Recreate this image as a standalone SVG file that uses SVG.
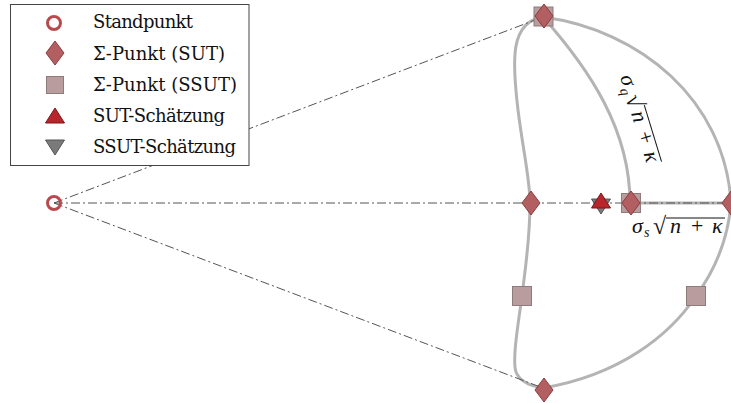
<svg xmlns="http://www.w3.org/2000/svg" width="731" height="403" viewBox="0 0 731 403">
<style>
.curve{fill:none;stroke:#b4b4b4;stroke-width:3}
.dash{fill:none;stroke:#555;stroke-width:1;stroke-dasharray:9 3 2 3}
.dia{fill:#b35f62;stroke:#8a3c3f;stroke-width:1}
.sq{fill:#b89c9e;stroke:#8e7b7c;stroke-width:1}
.tu{fill:#b8262b;stroke:#7c1518;stroke-width:1}
.td{fill:#7a7a7a;stroke:#555;stroke-width:1}
.ring{fill:none;stroke:#b84a4d;stroke-width:3}
</style>
<defs>
<path id="dia" d="M0,-12 L9,0 L0,12 L-9,0 Z"/>
<rect id="sq" x="-9.5" y="-9.5" width="19" height="19"/>
<rect id="sqs" x="-8.5" y="-8.5" width="17" height="17"/>
<path id="tu" d="M0,-8 L9.5,7 L-9.5,7 Z"/>
<path id="td" d="M0,9 L9.5,-6 L-9.5,-6 Z"/>
</defs>
<g id="connectors">
<path class="curve" d="M543,17 C510,22 512,60 518,110 C523,150 530,180 530,203"/>
<path class="curve" d="M530,203 C530,240 525,270 522,296 C518,325 512,360 516,372 C520,382 530,386 543,388"/>
<path class="curve" d="M543,17 C590,70 630,130 630,203"/>
<path class="curve" d="M543,17 C640,30 725,100 731,203"/>
<path class="curve" d="M731,203 C728,240 715,270 696,296 C670,335 620,375 543,388"/>
<path class="curve" d="M630,203 L731,203"/>
<path class="dash" d="M54,203 L731,203"/>
<path class="dash" d="M54,203 L543,17"/>
<path class="dash" d="M54,203 L543,388"/>
</g>
<g id="legend">
<rect x="10.5" y="4.5" width="238.5" height="161" fill="#fff" stroke="#444" stroke-width="1"/>
<circle class="ring" cx="54" cy="23" r="6.5"/>
<use href="#dia" class="dia" x="55" y="53"/>
<use href="#sqs" class="sq" x="55" y="85"/>
<use href="#tu" class="tu" x="55" y="116"/>
<use href="#td" class="td" x="55" y="146"/>
<text x="93" y="28" font-family="DejaVu Serif" font-size="18" fill="#111" textLength="100">Standpunkt</text>
<text x="93" y="60" font-family="DejaVu Serif" font-size="18" fill="#111" textLength="132">Σ-Punkt (SUT)</text>
<text x="93" y="91" font-family="DejaVu Serif" font-size="18" fill="#111" textLength="144">Σ-Punkt (SSUT)</text>
<text x="93" y="122" font-family="DejaVu Serif" font-size="18" fill="#111" textLength="132">SUT-Schätzung</text>
<text x="93" y="153" font-family="DejaVu Serif" font-size="18" fill="#111" textLength="143">SSUT-Schätzung</text>
</g>
<g id="standpunkt"><circle class="ring" cx="54" cy="203" r="6.5"/></g>
<g id="p-top"><use href="#sq" class="sq" x="543.5" y="16.5"/><use href="#dia" class="dia" x="544" y="16"/></g>
<g id="p-left"><use href="#dia" class="dia" x="531" y="203"/></g>
<g id="p-mid"><use href="#sq" class="sq" x="631" y="203"/><use href="#dia" class="dia" x="631" y="203"/></g>
<g id="p-right"><use href="#dia" class="dia" x="731" y="203"/></g>
<g id="sq-left"><use href="#sq" class="sq" x="522" y="296"/></g>
<g id="sq-right"><use href="#sq" class="sq" x="696" y="296"/></g>
<g id="p-bottom"><use href="#dia" class="dia" x="544" y="390"/></g>
<g id="estimates"><use href="#td" class="td" x="601" y="205"/><use href="#tu" class="tu" x="601" y="201"/></g>
<g id="label-s">
<text x="632" y="233" font-family="Liberation Serif" font-size="22" font-style="italic" fill="#111">σ</text>
<text x="644" y="237" font-family="Liberation Serif" font-size="14" font-style="italic" fill="#111">s</text>
<text x="653" y="234" font-family="Liberation Serif" font-size="24" fill="#111">√</text>
<text x="670" y="233" font-family="Liberation Serif" font-size="22" font-style="italic" fill="#111">n</text>
<text x="691" y="233" font-family="Liberation Serif" font-size="22" fill="#111">+</text>
<text x="712" y="233" font-family="Liberation Serif" font-size="22" font-style="italic" fill="#111">κ</text>
<line x1="666" y1="218" x2="725" y2="218" stroke="#111" stroke-width="1"/>
</g>
<g id="label-q" transform="translate(620,77) rotate(73)">
<text x="0" y="0" font-family="Liberation Serif" font-size="22" font-style="italic" fill="#111">σ</text>
<text x="12" y="4" font-family="Liberation Serif" font-size="14" font-style="italic" fill="#111">q</text>
<text x="21" y="1" font-family="Liberation Serif" font-size="24" fill="#111">√</text>
<text x="38" y="0" font-family="Liberation Serif" font-size="22" font-style="italic" fill="#111">n</text>
<text x="59" y="0" font-family="Liberation Serif" font-size="22" fill="#111">+</text>
<text x="80" y="0" font-family="Liberation Serif" font-size="22" font-style="italic" fill="#111">κ</text>
<line x1="34" y1="-15" x2="93" y2="-15" stroke="#111" stroke-width="1"/>
</g>
</svg>
